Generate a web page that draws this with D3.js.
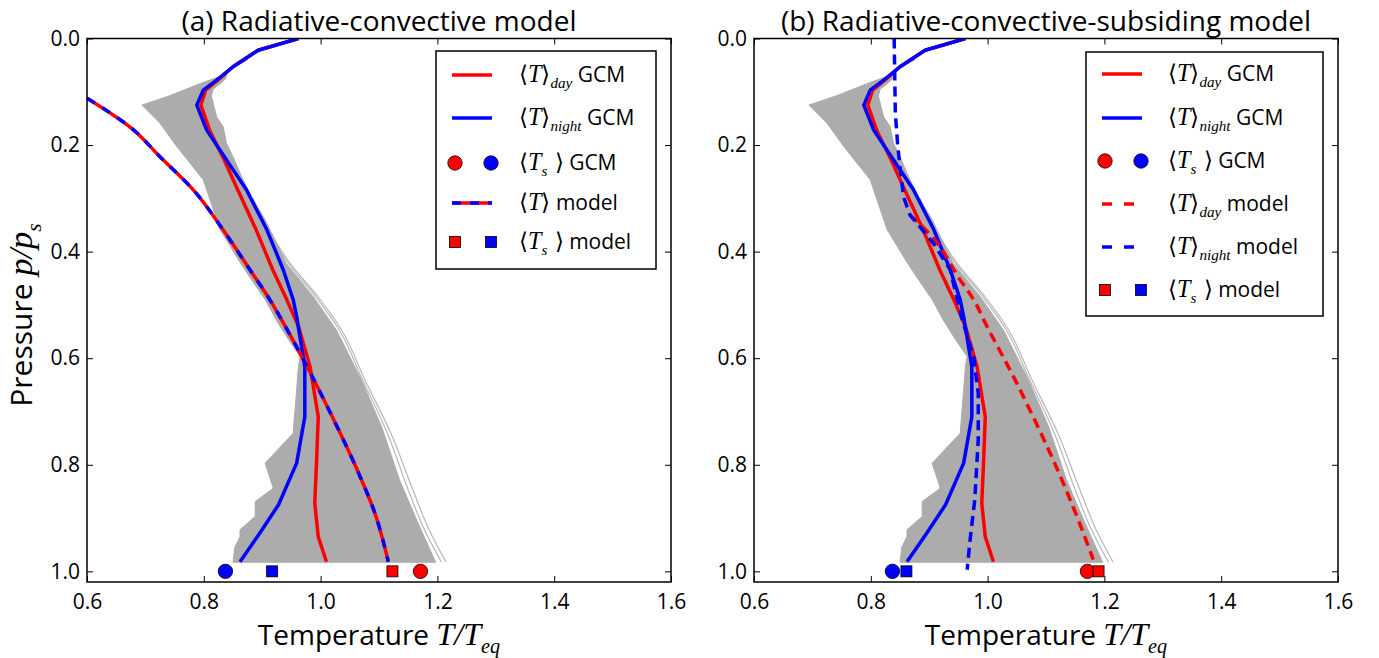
<!DOCTYPE html>
<html>
<head>
<meta charset="utf-8">
<script src="https://cdn.jsdelivr.net/npm/d3@7"></script>
<style>
  html, body { margin: 0; padding: 0; background: #fff; }
  svg { display: block; }
  text { font-family: "Open Sans", "DejaVu Sans", sans-serif; fill: #000; }
</style>
</head>
<body>
<svg id="chart" width="1379" height="658"></svg>
<script>
// ---------------- DATA ----------------
const xTicks = [0.6, 0.8, 1.0, 1.2, 1.4, 1.6];
const yTicks = [0.0, 0.2, 0.4, 0.6, 0.8, 1.0];
const titles = ["(a) Radiative-convective model", "(b) Radiative-convective-subsiding model"];

// GCM day-side mean profile
const dayGCM_p = [0.0, 0.022, 0.053, 0.078, 0.097, 0.125, 0.172, 0.228, 0.284, 0.36, 0.434, 0.49, 0.54, 0.616, 0.71, 0.797, 0.872, 0.935, 0.982];
const dayGCM_T = [0.962, 0.893, 0.85, 0.824, 0.803, 0.795, 0.81, 0.835, 0.858, 0.89, 0.918, 0.942, 0.962, 0.982, 0.996, 0.993, 0.990, 0.996, 1.010];

// GCM night-side mean profile
const nightGCM_p = [0.0, 0.022, 0.053, 0.078, 0.097, 0.125, 0.172, 0.228, 0.284, 0.359, 0.434, 0.49, 0.522, 0.616, 0.71, 0.797, 0.875, 0.928, 0.982];
const nightGCM_T = [0.962, 0.893, 0.85, 0.822, 0.799, 0.788, 0.805, 0.839, 0.873, 0.908, 0.936, 0.953, 0.959, 0.973, 0.973, 0.959, 0.928, 0.896, 0.862];

// (a) radiative-convective model profile
const modelRC_p = [0.112, 0.169, 0.222, 0.284, 0.359, 0.434, 0.49, 0.541, 0.616, 0.71, 0.803, 0.891, 0.982];
const modelRC_T = [0.6, 0.677, 0.725, 0.782, 0.833, 0.879, 0.913, 0.94, 0.977, 1.02, 1.06, 1.093, 1.116];

// (b) radiative-convective-subsiding model profiles
const dayModel_p = [0.331, 0.372, 0.453, 0.49, 0.534, 0.634, 0.71, 0.79, 0.878, 0.978];
const dayModel_T = [0.867, 0.905, 0.953, 0.976, 0.996, 1.044, 1.078, 1.112, 1.146, 1.181];
const nightModel_p = [0.0, 0.14, 0.2, 0.25, 0.297, 0.331, 0.384, 0.434, 0.522, 0.597, 0.666, 0.753, 0.866, 0.941, 0.997];
const nightModel_T = [0.840, 0.842, 0.846, 0.851, 0.856, 0.867, 0.907, 0.936, 0.955, 0.976, 0.984, 0.984, 0.978, 0.970, 0.965];

// Surface temperatures (at p/ps = 1)
const surfP = 1.0;
const surfGCM_day = 1.171, surfGCM_night = 0.837;
const surfModelA_day = 1.123, surfModelA_night = 0.917;
const surfModelB_day = 1.19, surfModelB_night = 0.861;

// Envelope of all individual GCM column profiles (grey)
const grey_T = [0.875, 0.85, 0.84, 0.838, 0.828, 0.816, 0.813, 0.818, 0.822, 0.833, 0.839, 0.85, 0.865, 0.883, 0.905, 0.941, 0.987, 1.027, 1.07, 1.105, 1.135, 1.165, 1.197,
                0.85, 0.853, 0.862, 0.862, 0.888, 0.888, 0.919, 0.905, 0.953, 0.959, 0.962, 0.965, 0.945, 0.925, 0.905, 0.88, 0.862, 0.828, 0.799, 0.754, 0.725, 0.694,
                0.74, 0.793, 0.83, 0.855];
const grey_p = [0.04, 0.055, 0.062, 0.075, 0.085, 0.095, 0.108, 0.13, 0.147, 0.165, 0.197, 0.222, 0.26, 0.30, 0.34, 0.422, 0.484, 0.547, 0.641, 0.73, 0.828, 0.905, 0.983,
                0.983, 0.955, 0.935, 0.922, 0.897, 0.869, 0.844, 0.797, 0.741, 0.659, 0.616, 0.597, 0.565, 0.53, 0.49, 0.45, 0.42, 0.359, 0.265, 0.203, 0.159, 0.125,
                0.108, 0.085, 0.07, 0.05];
// Outermost individual grey profiles
const greyEdge_p = [0.30, 0.36, 0.422, 0.484, 0.547, 0.641, 0.74, 0.847, 0.92, 0.983];
const greyEdge1_T = [0.884, 0.912, 0.948, 0.995, 1.036, 1.076, 1.12, 1.158, 1.185, 1.215];
const greyEdge2_T = [0.883, 0.910, 0.945, 0.991, 1.032, 1.072, 1.114, 1.15, 1.177, 1.207];

// ---------------- DRAW ----------------
const svg = d3.select("#chart");
const RED = "#ff0000", BLUE = "#0000ff", GREY = "#acacac";
const SANS = "Open Sans, DejaVu Sans, sans-serif";

const y = d3.scaleLinear().domain([0, 1.02]).range([38.5, 582]);
const panels = [
  { x: d3.scaleLinear().domain([0.6, 1.6]).range([87, 671]) },
  { x: d3.scaleLinear().domain([0.6, 1.6]).range([754, 1338]) }
];

function pts(T, P) { return T.map((t, i) => [t, P[i]]); }

// math-text helper: parts = [[text, kind]] kind: 'sans','serif','it','sub'
function mathText(sel, parts, base) {
  let shift = 0;
  parts.forEach(([t, k]) => {
    const ts = sel.append("tspan").text(t);
    if (k === "it") ts.attr("font-family", "Liberation Serif, serif").attr("font-style", "italic").attr("font-size", base * 1.15);
    else if (k === "serif") ts.attr("font-family", "DejaVu Sans, Liberation Serif, serif").attr("font-size", base * 1.1).attr("font-weight", 200);
    else if (k === "sub") ts.attr("font-family", "Liberation Serif, serif").attr("font-style", "italic").attr("font-size", base * 0.72);
    else ts.attr("font-size", base).attr("font-family", SANS);
    const target = (k === "sub") ? base * 0.3 : 0;
    if (target !== shift) { ts.attr("dy", target - shift); shift = target; }
  });
}

panels.forEach((pan, idx) => {
  const x = pan.x;
  const g = svg.append("g");
  const [x0, x1] = x.range();
  const [y0, y1] = y.range();

  const clipId = "clip" + idx;
  svg.append("clipPath").attr("id", clipId).append("rect")
    .attr("x", x0).attr("y", y0).attr("width", x1 - x0).attr("height", y1 - y0);
  const plot = g.append("g").attr("clip-path", `url(#${clipId})`);

  const lineLin = d3.line().x(d => x(d[0])).y(d => y(d[1]));
  const lineSmooth = d3.line().x(d => x(d[0])).y(d => y(d[1])).curve(d3.curveMonotoneY);

  // grey envelope
  [greyEdge1_T, greyEdge2_T].forEach(T => {
    plot.append("path").attr("d", lineSmooth(pts(T, greyEdge_p)))
      .attr("fill", "none").attr("stroke", "#b8b8b8").attr("stroke-width", 1.2);
  });
  plot.append("path").attr("d", lineLin(pts(grey_T, grey_p)) + "Z")
    .attr("fill", GREY).attr("stroke", GREY).attr("stroke-width", 1);

  // GCM means
  plot.append("path").attr("d", lineLin(pts(dayGCM_T, dayGCM_p)))
    .attr("fill", "none").attr("stroke", RED).attr("stroke-width", 3.5).attr("stroke-linejoin", "round");
  plot.append("path").attr("d", lineLin(pts(nightGCM_T, nightGCM_p)))
    .attr("fill", "none").attr("stroke", BLUE).attr("stroke-width", 3.5).attr("stroke-linejoin", "round");

  if (idx === 0) {
    const d = lineSmooth(pts(modelRC_T, modelRC_p));
    plot.append("path").attr("d", d).attr("fill", "none").attr("stroke", RED).attr("stroke-width", 3.5);
    plot.append("path").attr("d", d).attr("fill", "none").attr("stroke", BLUE).attr("stroke-width", 3.5)
      .attr("stroke-dasharray", "9,9");
  } else {
    plot.append("path").attr("d", lineSmooth(pts(dayModel_T, dayModel_p)))
      .attr("fill", "none").attr("stroke", RED).attr("stroke-width", 3.5).attr("stroke-dasharray", "10,6");
    plot.append("path").attr("d", lineLin(pts(nightModel_T, nightModel_p)))
      .attr("fill", "none").attr("stroke", BLUE).attr("stroke-width", 3.5).attr("stroke-dasharray", "10,6");
  }

  // surface markers
  const sq = 11, cr = 7.2;
  const mDay = idx === 0 ? surfModelA_day : surfModelB_day;
  const mNight = idx === 0 ? surfModelA_night : surfModelB_night;
  const markers = g.append("g");
  [[surfGCM_night, BLUE], [surfGCM_day, RED]].forEach(([t, c]) => {
    markers.append("circle").attr("cx", x(t)).attr("cy", y(surfP)).attr("r", cr)
      .attr("fill", c).attr("stroke", "#000").attr("stroke-width", 0.8);
  });
  [[mNight, BLUE], [mDay, RED]].forEach(([t, c]) => {
    markers.append("rect").attr("x", x(t) - sq / 2).attr("y", y(surfP) - sq / 2).attr("width", sq).attr("height", sq)
      .attr("fill", c).attr("stroke", "#000").attr("stroke-width", 0.8);
  });

  // axes (ticks inward on all sides)
  const fmt = d3.format(".1f");
  const ax = [
    d3.axisBottom(x).tickValues(xTicks).tickFormat(fmt).tickSizeInner(-6).tickSizeOuter(0).tickPadding(12),
    d3.axisTop(x).tickValues(xTicks).tickFormat("").tickSizeInner(-6).tickSizeOuter(0),
    d3.axisLeft(y).tickValues(yTicks).tickFormat(fmt).tickSizeInner(-6).tickSizeOuter(0).tickPadding(7),
    d3.axisRight(y).tickValues(yTicks).tickFormat("").tickSizeInner(-6).tickSizeOuter(0)
  ];
  const trans = [`translate(0,${y1})`, `translate(0,${y0})`, `translate(${x0},0)`, `translate(${x1},0)`];
  ax.forEach((a, i) => {
    const ag = g.append("g").attr("transform", trans[i]).call(a);
    ag.select(".domain").remove();
    ag.selectAll(".tick line").attr("stroke", "#000").attr("stroke-width", 1);
    ag.selectAll(".tick text").attr("font-family", SANS).attr("font-size", 21).attr("fill", "#000");
  });
  g.append("rect").attr("x", x0).attr("y", y0).attr("width", x1 - x0).attr("height", y1 - y0)
    .attr("fill", "none").attr("stroke", "#000").attr("stroke-width", 1.5);

  // title
  g.append("text").attr("x", (x0 + x1) / 2).attr("y", 31).attr("text-anchor", "middle")
    .attr("font-family", SANS).attr("font-size", 28).text(titles[idx]);

  // x label
  const xl = g.append("text").attr("x", (x0 + x1) / 2).attr("y", 645).attr("text-anchor", "middle");
  mathText(xl, [["Temperature ", "sans"], ["T/T", "it"], ["eq", "sub"]], 28);

  // legend
  const L = idx === 0
    ? { x: 436, y: 51, w: 220, h: 218, rows: [75, 118, 163, 203, 242], lx: 452, tx: 519 }
    : { x: 1086, y: 52, w: 237, h: 264, rows: [74, 118, 161, 204, 247, 290], lx: 1102, tx: 1168 };
  const lg = g.append("g");
  lg.append("rect").attr("x", L.x).attr("y", L.y).attr("width", L.w).attr("height", L.h)
    .attr("fill", "#fff").attr("stroke", "#000").attr("stroke-width", 1.5);
  const entries = idx === 0
    ? [
        { type: "line", color: RED, label: [["⟨", "serif"], ["T", "it"], ["⟩", "serif"], ["day", "sub"], [" GCM", "sans"]] },
        { type: "line", color: BLUE, label: [["⟨", "serif"], ["T", "it"], ["⟩", "serif"], ["night", "sub"], [" GCM", "sans"]] },
        { type: "circles", label: [["⟨", "serif"], ["T", "it"], ["s", "sub"], [" ⟩", "serif"], [" GCM", "sans"]] },
        { type: "rb", label: [["⟨", "serif"], ["T", "it"], ["⟩", "serif"], [" model", "sans"]] },
        { type: "squares", label: [["⟨", "serif"], ["T", "it"], ["s", "sub"], [" ⟩", "serif"], [" model", "sans"]] }
      ]
    : [
        { type: "line", color: RED, label: [["⟨", "serif"], ["T", "it"], ["⟩", "serif"], ["day", "sub"], [" GCM", "sans"]] },
        { type: "line", color: BLUE, label: [["⟨", "serif"], ["T", "it"], ["⟩", "serif"], ["night", "sub"], [" GCM", "sans"]] },
        { type: "circles", label: [["⟨", "serif"], ["T", "it"], ["s", "sub"], [" ⟩", "serif"], [" GCM", "sans"]] },
        { type: "dash", color: RED, label: [["⟨", "serif"], ["T", "it"], ["⟩", "serif"], ["day", "sub"], [" model", "sans"]] },
        { type: "dash", color: BLUE, label: [["⟨", "serif"], ["T", "it"], ["⟩", "serif"], ["night", "sub"], [" model", "sans"]] },
        { type: "squares", label: [["⟨", "serif"], ["T", "it"], ["s", "sub"], [" ⟩", "serif"], [" model", "sans"]] }
      ];
  entries.forEach((e, i) => {
    const cy = L.rows[i];
    const lx0 = L.lx, lx1 = L.lx + 40;
    if (e.type === "line") {
      lg.append("line").attr("x1", lx0).attr("x2", lx1).attr("y1", cy).attr("y2", cy)
        .attr("stroke", e.color).attr("stroke-width", 3.5);
    } else if (e.type === "dash") {
      lg.append("line").attr("x1", lx0).attr("x2", lx1).attr("y1", cy).attr("y2", cy)
        .attr("stroke", e.color).attr("stroke-width", 3.5).attr("stroke-dasharray", "10,12");
    } else if (e.type === "rb") {
      lg.append("line").attr("x1", lx0).attr("x2", lx1).attr("y1", cy).attr("y2", cy)
        .attr("stroke", RED).attr("stroke-width", 3.5);
      lg.append("line").attr("x1", lx0).attr("x2", lx1).attr("y1", cy).attr("y2", cy)
        .attr("stroke", BLUE).attr("stroke-width", 3.5).attr("stroke-dasharray", "9,9");
    } else if (e.type === "circles") {
      [[lx0 + 3, RED], [lx1 - 1, BLUE]].forEach(([cx, c]) =>
        lg.append("circle").attr("cx", cx).attr("cy", cy).attr("r", cr).attr("fill", c)
          .attr("stroke", "#000").attr("stroke-width", 0.8));
    } else if (e.type === "squares") {
      [[lx0 + 3, RED], [lx1 - 1, BLUE]].forEach(([cx, c]) =>
        lg.append("rect").attr("x", cx - sq / 2).attr("y", cy - sq / 2).attr("width", sq).attr("height", sq)
          .attr("fill", c).attr("stroke", "#000").attr("stroke-width", 0.8));
    }
    const t = lg.append("text").attr("x", L.tx).attr("y", cy + 7);
    mathText(t, e.label, 21);
  });
});

// y label
const yl = svg.append("text").attr("transform", "translate(32,315) rotate(-90)").attr("text-anchor", "middle");
mathText(yl, [["Pressure ", "sans"], ["p/p", "it"], ["s", "sub"]], 30);
</script>
</body>
</html>
